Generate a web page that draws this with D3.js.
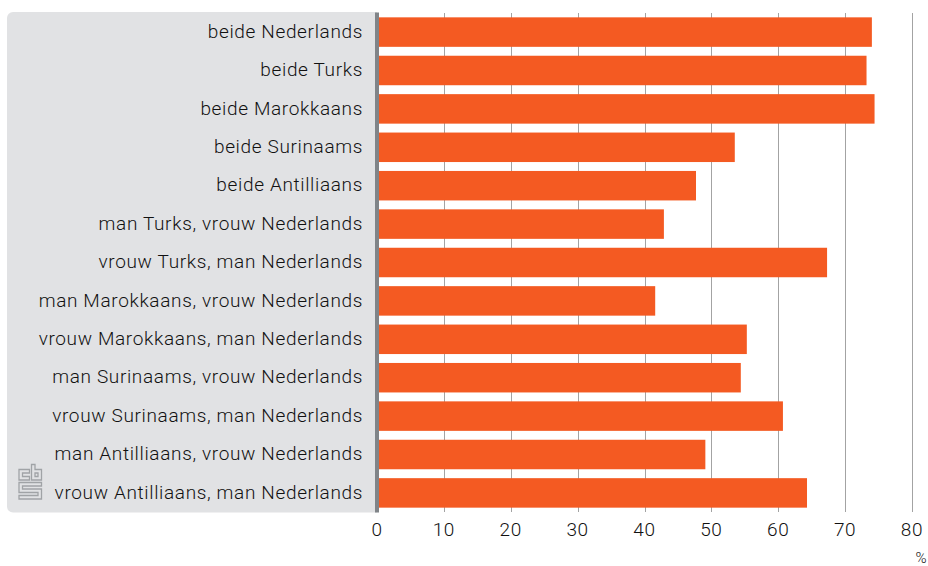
<!DOCTYPE html>
<html><head><meta charset="utf-8">
<script src="https://cdn.jsdelivr.net/npm/d3@7"></script>
<style>html,body{margin:0;padding:0;background:#fff}svg{display:block}text{font-family:Roboto,sans-serif;font-weight:300;fill:#111}</style>
</head><body><svg id="c" width="928" height="566"></svg>
<script>
const categories=["beide Nederlands","beide Turks","beide Marokkaans","beide Surinaams","beide Antilliaans","man Turks, vrouw Nederlands","vrouw Turks, man Nederlands","man Marokkaans, vrouw Nederlands","vrouw Marokkaans, man Nederlands","man Surinaams, vrouw Nederlands","vrouw Surinaams, man Nederlands","man Antilliaans, vrouw Nederlands","vrouw Antilliaans, man Nederlands"];
const values=[74,73.2,74.4,53.5,47.7,42.9,67.3,41.6,55.3,54.4,60.7,49.1,64.3];
const ticks=[0,10,20,30,40,50,60,70,80];
const svg=d3.select("#c");
const x=d3.scaleLinear().domain([0,80]).range([377,912]);
const y=d3.scaleBand().domain(categories).range([12.5,512.5]).paddingInner(0.232).paddingOuter(0.126);
svg.append("path").attr("d","M7 18a6 6 0 0 1 6-6H377V512.5H13a6 6 0 0 1-6-6Z").attr("fill","#e1e2e4");
svg.selectAll("line.g").data(ticks.slice(1)).join("line").attr("x1",d=>Math.round(x(d))+.5).attr("x2",d=>Math.round(x(d))+.5).attr("y1",13).attr("y2",512).attr("stroke","#a3a3a3");
const logo=svg.append("g").attr("fill","none").attr("stroke","#a0a3a6").attr("stroke-width",1.3);
logo.append("path").attr("d","M29.5 469.5H19V480H29.5V476.5H22.5V473H29.5Z");
logo.append("path").attr("d","M31.5 464.5H35V469.5H41.5V480H31.5ZM35 473H38V476.5H35Z");
logo.append("path").attr("d","M19 482.5H41.5V486H22.5V489H41.5V499H19V495.5H38V492.5H19Z");
svg.selectAll("rect.b").data(values).join("rect").attr("class","b").attr("x",x(0)).attr("y",(d,i)=>y(categories[i])).attr("width",d=>x(d)-x(0)).attr("height",y.bandwidth()).attr("fill","#f45a22");
svg.append("rect").attr("x",375).attr("y",12.5).attr("width",4).attr("height",500).attr("fill","#808488");
svg.selectAll("text.c").data(categories).join("text").attr("class","c").attr("x",363).attr("y",d=>y(d)+y.bandwidth()/2).attr("dy","0.3em").attr("text-anchor","end").attr("font-size",19).attr("letter-spacing",0.65).text(d=>d);
svg.selectAll("text.t").data(ticks).join("text").attr("class","t").attr("x",d=>x(d)).attr("y",536).attr("text-anchor","middle").attr("font-size",19).attr("letter-spacing",0.65).text(d=>d);
svg.append("text").attr("x",921).attr("y",563).attr("text-anchor","middle").attr("font-size",15).text("%");
</script></body></html>
